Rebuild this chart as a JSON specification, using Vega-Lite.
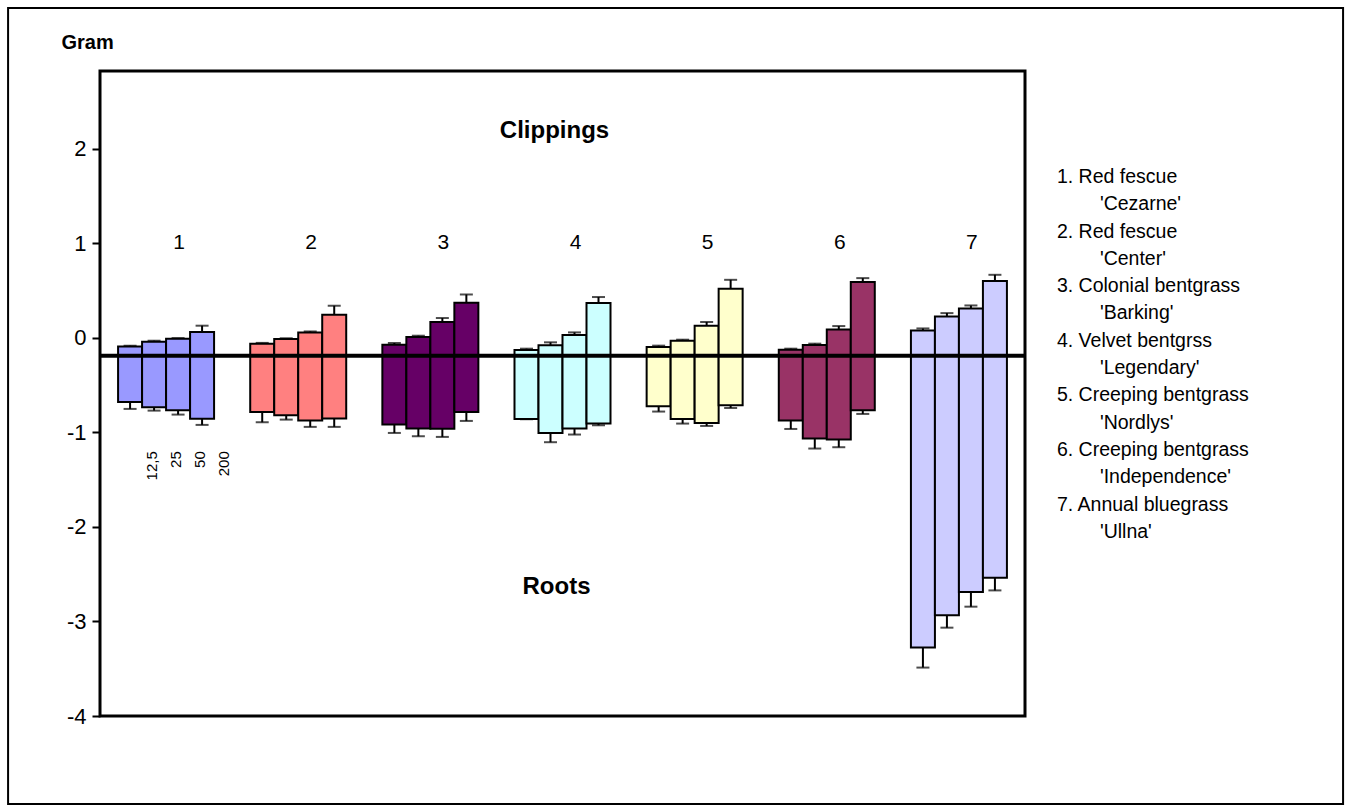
{
  "$schema": "https://vega.github.io/schema/vega-lite/v6.json",
  "width": 925,
  "height": 645,
  "autosize": {"type": "none"},
  "padding": {"left": 100, "top": 71, "right": 326, "bottom": 96},
  "background": "white",
  "config": {
    "view": {"stroke": "black", "strokeWidth": 3},
    "font": "Liberation Sans",
    "text": {"font": "Liberation Sans", "color": "black"}
  },
  "datasets": {
    "bars": [
      {"group": "1", "dose": "12,5", "clip": -0.092, "clipHi": -0.085, "root": -0.679, "rootLo": -0.753},
      {"group": "1", "dose": "25", "clip": -0.042, "clipHi": -0.032, "root": -0.736, "rootLo": -0.771},
      {"group": "1", "dose": "50", "clip": -0.011, "clipHi": -0.004, "root": -0.768, "rootLo": -0.813},
      {"group": "1", "dose": "200", "clip": 0.060, "clipHi": 0.127, "root": -0.858, "rootLo": -0.922},
      {"group": "2", "dose": "12,5", "clip": -0.063, "clipHi": -0.055, "root": -0.785, "rootLo": -0.894},
      {"group": "2", "dose": "25", "clip": -0.014, "clipHi": -0.006, "root": -0.820, "rootLo": -0.866},
      {"group": "2", "dose": "50", "clip": 0.056, "clipHi": 0.066, "root": -0.876, "rootLo": -0.943},
      {"group": "2", "dose": "200", "clip": 0.243, "clipHi": 0.338, "root": -0.855, "rootLo": -0.943},
      {"group": "3", "dose": "12,5", "clip": -0.074, "clipHi": -0.056, "root": -0.919, "rootLo": -1.007},
      {"group": "3", "dose": "25", "clip": 0.007, "clipHi": 0.021, "root": -0.961, "rootLo": -1.042},
      {"group": "3", "dose": "50", "clip": 0.166, "clipHi": 0.208, "root": -0.964, "rootLo": -1.049},
      {"group": "3", "dose": "200", "clip": 0.370, "clipHi": 0.457, "root": -0.785, "rootLo": -0.880},
      {"group": "4", "dose": "12,5", "clip": -0.130, "clipHi": -0.116, "root": -0.859, "rootLo": -0.862},
      {"group": "4", "dose": "25", "clip": -0.081, "clipHi": -0.049, "root": -1.007, "rootLo": -1.105},
      {"group": "4", "dose": "50", "clip": 0.028, "clipHi": 0.056, "root": -0.961, "rootLo": -1.024},
      {"group": "4", "dose": "200", "clip": 0.366, "clipHi": 0.430, "root": -0.908, "rootLo": -0.926},
      {"group": "5", "dose": "12,5", "clip": -0.098, "clipHi": -0.084, "root": -0.725, "rootLo": -0.781},
      {"group": "5", "dose": "25", "clip": -0.032, "clipHi": -0.021, "root": -0.859, "rootLo": -0.908},
      {"group": "5", "dose": "50", "clip": 0.127, "clipHi": 0.166, "root": -0.901, "rootLo": -0.933},
      {"group": "5", "dose": "200", "clip": 0.517, "clipHi": 0.612, "root": -0.714, "rootLo": -0.743},
      {"group": "6", "dose": "12,5", "clip": -0.127, "clipHi": -0.116, "root": -0.876, "rootLo": -0.965},
      {"group": "6", "dose": "25", "clip": -0.077, "clipHi": -0.063, "root": -1.067, "rootLo": -1.172},
      {"group": "6", "dose": "50", "clip": 0.088, "clipHi": 0.123, "root": -1.077, "rootLo": -1.158},
      {"group": "6", "dose": "200", "clip": 0.588, "clipHi": 0.630, "root": -0.768, "rootLo": -0.806},
      {"group": "7", "dose": "12,5", "clip": 0.077, "clipHi": 0.098, "root": -3.277, "rootLo": -3.488},
      {"group": "7", "dose": "25", "clip": 0.225, "clipHi": 0.260, "root": -2.936, "rootLo": -3.066},
      {"group": "7", "dose": "50", "clip": 0.310, "clipHi": 0.341, "root": -2.689, "rootLo": -2.844},
      {"group": "7", "dose": "200", "clip": 0.599, "clipHi": 0.665, "root": -2.538, "rootLo": -2.672}
    ],
    "groups": [
      {"group": "1"}, {"group": "2"}, {"group": "3"}, {"group": "4"},
      {"group": "5"}, {"group": "6"}, {"group": "7"}
    ]
  },
  "data": {"name": "bars"},
  "layer": [
    {
      "mark": {"type": "rule", "color": "black", "strokeWidth": 2},
      "encoding": {
        "x": {"field": "group", "type": "nominal", "scale": {"domain": ["1", "2", "3", "4", "5", "6", "7"], "paddingInner": 0.2735, "paddingOuter": 0.1368}, "axis": null},
        "xOffset": {"field": "dose", "type": "nominal", "scale": {"domain": ["12,5", "25", "50", "200"], "paddingInner": 0, "paddingOuter": 0}},
        "y": {
          "field": "rootLo", "type": "quantitative", "title": "Gram",
          "scale": {"domain": [-4, 2.82], "nice": false, "zero": false},
          "axis": {
            "values": [-4, -3, -2, -1, 0, 1, 2], "labelExpr": "datum.value + ''",
            "domain": false, "grid": false,
            "ticks": true, "tickSize": 8, "tickWidth": 2, "tickColor": "black",
            "labelFont": "Liberation Sans", "labelFontSize": 22, "labelColor": "black", "labelPadding": 6,
            "titleAngle": 0, "titleAlign": "left", "titleBaseline": "alphabetic", "titleX": -39, "titleY": -23,
            "titleFont": "Liberation Sans", "titleFontSize": 20, "titleFontWeight": "bold", "titleColor": "black"
          }
        },
        "y2": {"field": "clipHi"}
      }
    },
    {
      "mark": {"type": "bar", "stroke": "black", "strokeWidth": 2},
      "encoding": {
        "x": {"field": "group", "type": "nominal", "axis": null},
        "xOffset": {"field": "dose", "type": "nominal"},
        "y": {"field": "root", "type": "quantitative", "title": "Gram"},
        "y2": {"field": "clip"},
        "fill": {
          "field": "group", "type": "nominal", "legend": null,
          "scale": {"domain": ["1", "2", "3", "4", "5", "6", "7"], "range": ["#9999ff", "#ff8080", "#660066", "#ccffff", "#ffffcc", "#993366", "#ccccff"]}
        }
      }
    },
    {
      "mark": {"type": "tick", "color": "black", "thickness": 2, "size": 13},
      "encoding": {
        "x": {"field": "group", "type": "nominal", "axis": null},
        "xOffset": {"field": "dose", "type": "nominal"},
        "y": {"field": "clipHi", "type": "quantitative", "title": "Gram"}
      }
    },
    {
      "mark": {"type": "tick", "color": "black", "thickness": 2, "size": 13},
      "encoding": {
        "x": {"field": "group", "type": "nominal", "axis": null},
        "xOffset": {"field": "dose", "type": "nominal"},
        "y": {"field": "rootLo", "type": "quantitative", "title": "Gram"}
      }
    },
    {
      "data": {"values": [{"k": 1}]},
      "mark": {"type": "rule", "color": "black", "strokeWidth": 4},
      "encoding": {"y": {"datum": -0.19, "title": "Gram"}}
    },
    {
      "transform": [{"filter": "datum.group === '1'"}],
      "mark": {"type": "text", "angle": 270, "align": "right", "baseline": "middle", "fontSize": 15, "dy": 22},
      "encoding": {
        "x": {"field": "group", "type": "nominal", "axis": null},
        "xOffset": {"field": "dose", "type": "nominal"},
        "y": {"datum": -1.2, "title": "Gram"},
        "text": {"field": "dose"}
      }
    },
    {
      "data": {"name": "groups"},
      "mark": {"type": "text", "align": "center", "baseline": "middle", "fontSize": 21, "dx": 13},
      "encoding": {
        "x": {"field": "group", "type": "nominal", "axis": null},
        "y": {"datum": 1.0, "title": "Gram"},
        "text": {"field": "group"}
      }
    },
    {
      "data": {"values": [{"label": "Clippings"}]},
      "mark": {"type": "text", "align": "center", "baseline": "middle", "fontSize": 24, "fontWeight": "bold", "dx": -8},
      "encoding": {
        "x": {"datum": "4", "axis": null},
        "y": {"datum": 2.19, "title": "Gram"},
        "text": {"field": "label"}
      }
    },
    {
      "data": {"values": [{"label": "Roots"}]},
      "mark": {"type": "text", "align": "center", "baseline": "middle", "fontSize": 24, "fontWeight": "bold", "dx": -6},
      "encoding": {
        "x": {"datum": "4", "axis": null},
        "y": {"datum": -2.64, "title": "Gram"},
        "text": {"field": "label"}
      }
    },
    {
      "data": {"values": [{"k": 1}]},
      "mark": {"type": "text", "align": "left", "baseline": "alphabetic", "fontSize": 19.5, "lineHeight": 54.6, "dx": 98},
      "encoding": {
        "x": {"datum": "7", "axis": null},
        "y": {"datum": 1.636, "title": "Gram"},
        "text": {"value": [
          "1. Red fescue", "2. Red fescue", "3. Colonial bentgrass", "4. Velvet bentgrss",
          "5. Creeping bentgrass", "6. Creeping bentgrass", "7. Annual bluegrass"
        ]}
      }
    },
    {
      "data": {"values": [{"k": 1}]},
      "mark": {"type": "text", "align": "left", "baseline": "alphabetic", "fontSize": 19.5, "lineHeight": 54.6, "dx": 141},
      "encoding": {
        "x": {"datum": "7", "axis": null},
        "y": {"datum": 1.347, "title": "Gram"},
        "text": {"value": [
          "'Cezarne'", "'Center'", "'Barking'", "'Legendary'",
          "'Nordlys'", "'Independence'", "'Ullna'"
        ]}
      }
    },
    {
      "data": {"values": [{"k": 1}]},
      "mark": {"type": "rect", "filled": false, "color": "black", "strokeWidth": 2},
      "encoding": {
        "x": {"datum": "1", "bandPosition": -1.1458, "axis": null},
        "x2": {"datum": "7", "bandPosition": 4.5015},
        "y": {"datum": 3.486, "title": "Gram"},
        "y2": {"datum": -4.93}
      }
    }
  ]
}
